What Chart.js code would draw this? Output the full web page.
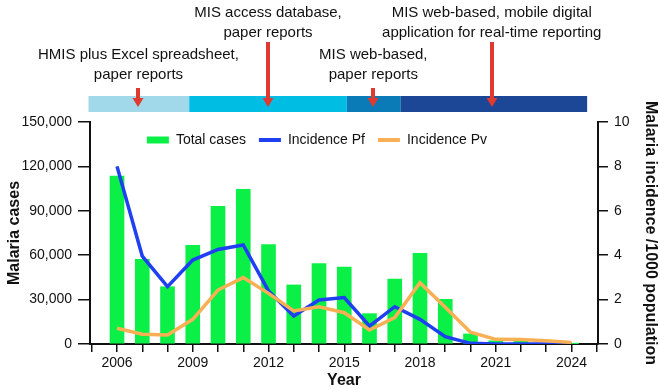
<!DOCTYPE html>
<html>
<head>
<meta charset="utf-8">
<script src="https://cdn.jsdelivr.net/npm/chart.js@4.4.1/dist/chart.umd.min.js"></script>
<style>
  html, body { margin: 0; padding: 0; background: #fff; }
</style>
</head>
<body>
<canvas id="chart" width="660" height="389"></canvas>
<script>
// data
const years = [2006, 2007, 2008, 2009, 2010, 2011, 2012, 2013, 2014, 2015,
               2016, 2017, 2018, 2019, 2020, 2021, 2022, 2023, 2024];
const totalCases = [113500, 57200, 38700, 66700, 93000, 104500, 67100, 39900, 54300, 52000,
                    20500, 43900, 61300, 30200, 6800, 2200, 1900, 400, 200];
const incidencePf = [8.0, 3.96, 2.58, 3.78, 4.26, 4.46, 2.39, 1.26, 1.98, 2.09,
                     0.81, 1.68, 1.11, 0.33, 0.03, 0, 0, 0, 0];
const incidencePv = [0.71, 0.44, 0.41, 1.11, 2.43, 2.99, 2.28, 1.49, 1.68, 1.41,
                     0.63, 1.19, 2.76, 1.65, 0.53, 0.21, 0.2, 0.15, 0.07];

const yearLabels = [2006, 2009, 2012, 2015, 2018, 2021, 2024];
const casesTicks = [0, 30000, 60000, 90000, 120000, 150000];
const incidenceTicks = [0, 2, 4, 6, 8, 10];

// reporting system timeline (in years)
const periodEdges = [2004.87, 2008.86, 2015.1, 2017.24, 2024.62];
const systemYears = [2006.85, 2011.98, 2016.15, 2020.84];
const systemLabels = [
  ["HMIS plus Excel spreadsheet,", "paper reports"],
  ["MIS access database,", "paper reports"],
  ["MIS web-based,", "paper reports"],
  ["MIS web-based, mobile digital", "application for real-time reporting"]
];

const FONT = '"Liberation Sans", Arial, Helvetica, sans-serif';
const INK = '#111';
Chart.defaults.font.family = FONT;
Chart.defaults.color = INK;

const timelinePlugin = {
  id: 'timeline',
  afterLayout(chart) {
    // legend sits inside the plot, just under the top of the axes
    const lg = chart.legend;
    const h = lg.bottom - lg.top;
    lg.top = 120;
    lg.bottom = 120 + h;
    lg.left -= 13;
    lg.right -= 13;
  },
  afterDraw(chart) {
    const { ctx } = chart;
    const x = chart.scales.x;
    const bandColors = ['#a1d9eb', '#00bde4', '#0a7bb7', '#1b4796'];
    ctx.save();
    for (let i = 0; i < periodEdges.length - 1; i++) {
      const x0 = x.getPixelForValue(periodEdges[i]);
      const x1 = x.getPixelForValue(periodEdges[i + 1]);
      ctx.fillStyle = bandColors[i];
      ctx.fillRect(x0, 96, x1 - x0, 16);
    }

    const arrowTop = [88, 42, 88, 42];
    const tip = 107, headH = 9, headW = 11, shaft = 4;
    ctx.fillStyle = '#e0392f';
    systemYears.forEach((yr, i) => {
      const cx = Math.round(x.getPixelForValue(yr));
      ctx.fillRect(cx - shaft / 2, arrowTop[i], shaft, tip - headH - arrowTop[i]);
      ctx.beginPath();
      ctx.moveTo(cx - headW / 2, tip - headH);
      ctx.lineTo(cx + headW / 2, tip - headH);
      ctx.lineTo(cx, tip);
      ctx.closePath();
      ctx.fill();
    });

    const rowY = [55, 13, 55, 13];
    ctx.font = '15px ' + FONT;
    ctx.fillStyle = INK;
    ctx.textAlign = 'center';
    ctx.textBaseline = 'middle';
    systemLabels.forEach((lines, i) => {
      const cx = x.getPixelForValue(systemYears[i]);
      lines.forEach((t, j) => ctx.fillText(t, cx, rowY[i] + j * 20));
    });
    ctx.restore();
  }
};

const pts = (vals) => years.map((yr, i) => ({ x: yr, y: vals[i] }));

new Chart(document.getElementById('chart'), {
  type: 'bar',
  data: {
    datasets: [
      {
        label: 'Total cases',
        data: pts(totalCases),
        backgroundColor: '#0af046',
        borderWidth: 0,
        barThickness: 14,
        yAxisID: 'y',
        order: 3
      },
      {
        type: 'line',
        label: 'Incidence Pf',
        data: pts(incidencePf),
        borderColor: '#1f3ff2',
        backgroundColor: '#1f3ff2',
        borderWidth: 3.5,
        pointRadius: 0,
        tension: 0,
        yAxisID: 'y1',
        order: 2
      },
      {
        type: 'line',
        label: 'Incidence Pv',
        data: pts(incidencePv),
        borderColor: '#f9b054',
        backgroundColor: '#f9b054',
        borderWidth: 3.5,
        pointRadius: 0,
        tension: 0,
        yAxisID: 'y1',
        order: 1
      }
    ]
  },
  options: {
    responsive: false,
    animation: false,
    layout: { padding: { top: 85, left: 0, right: 0, bottom: 0 } },
    plugins: {
      tooltip: { enabled: false },
      legend: {
        position: 'top',
        labels: {
          sort: (a, b) => a.datasetIndex - b.datasetIndex,
          usePointStyle: true,
          pointStyleWidth: 22,
          boxHeight: 7,
          padding: 13,
          color: INK,
          font: { size: 14 },
          generateLabels(chart) {
            const items = Chart.defaults.plugins.legend.labels.generateLabels(chart);
            items.forEach((it) => {
              const ds = chart.data.datasets[it.datasetIndex];
              if (ds.type === 'line') {
                it.pointStyle = 'line';
                it.lineWidth = 4;
                it.strokeStyle = ds.borderColor;
              } else {
                it.pointStyle = 'rect';
                it.lineWidth = 0;
              }
            });
            return items;
          }
        }
      }
    },
    scales: {
      x: {
        type: 'linear',
        min: 2004.93,
        max: 2025.05,
        offset: false,
        afterBuildTicks: (s) => {
          const t = [];
          for (let v = Math.ceil(s.min); v <= s.max; v++) t.push({ value: v });
          s.ticks = t;
        },
        afterFit: (s) => { s.height = 45; },
        ticks: {
          autoSkip: false,
          maxRotation: 0,
          padding: 3,
          font: { size: 14 },
          color: INK,
          callback: (v) => (yearLabels.includes(v) ? String(v) : '')
        },
        grid: { offset: false, drawOnChartArea: false, drawTicks: true, tickLength: 8, color: INK, lineWidth: 1.5 },
        border: { display: true, color: INK, width: 2 },
        title: { display: true, text: 'Year', color: INK, font: { size: 16, weight: 'bold' }, padding: { top: 0, bottom: -1 } }
      },
      y: {
        position: 'left',
        min: 0,
        max: 150000,
        afterBuildTicks: (s) => { s.ticks = casesTicks.map((v) => ({ value: v })); },
        afterFit: (s) => { s.width = 90; },
        ticks: {
          padding: 6,
          font: { size: 14 },
          color: INK,
          callback: (v) => v.toLocaleString('en-US')
        },
        grid: { drawOnChartArea: false, drawTicks: true, tickLength: 12, color: INK, lineWidth: 1.5 },
        border: { display: true, color: INK, width: 2 },
        title: { display: true, text: 'Malaria cases', color: INK, font: { size: 16, weight: 'bold' }, padding: { top: 5, bottom: 0 } }
      },
      y1: {
        position: 'right',
        min: 0,
        max: 10,
        afterBuildTicks: (s) => { s.ticks = incidenceTicks.map((v) => ({ value: v })); },
        afterFit: (s) => { s.width = 62; },
        ticks: { padding: 6, font: { size: 14 }, color: INK },
        grid: { drawOnChartArea: false, drawTicks: true, tickLength: 10, color: INK, lineWidth: 1.5 },
        border: { display: true, color: INK, width: 2 },
        title: { display: true, text: 'Malaria incidence /1000 population', color: INK, font: { size: 16, weight: 'bold' }, padding: { top: 0, bottom: 0 } }
      }
    }
  },
  plugins: [timelinePlugin]
});
</script>
</body>
</html>
